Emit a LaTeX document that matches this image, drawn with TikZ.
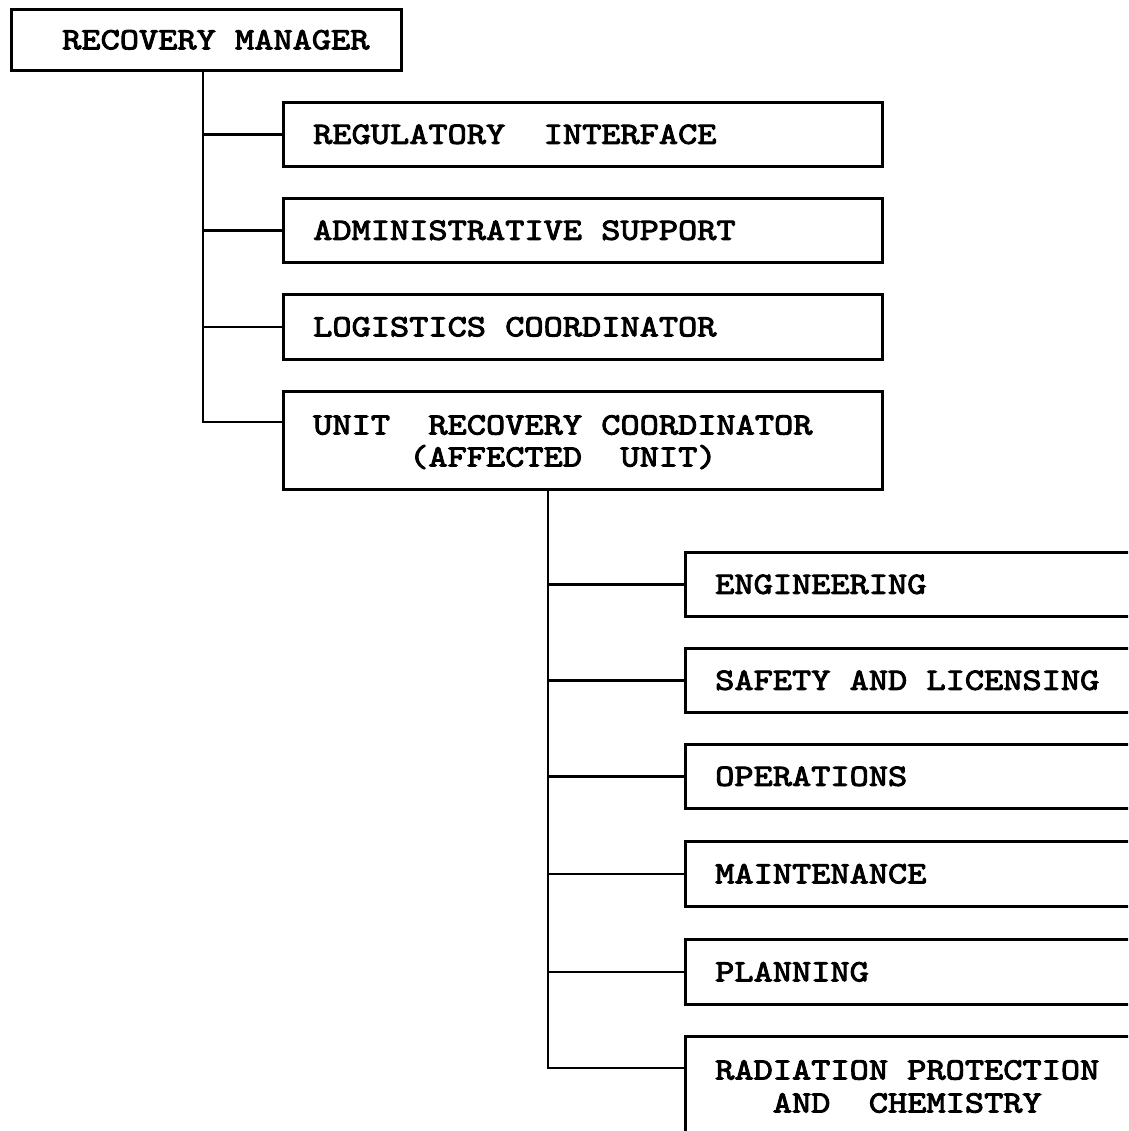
\documentclass[tikz,border=0pt]{standalone}
\usepackage{fontspec}
% slab-serif typewriter lettering, widened to the printed pitch and darkened
\newfontfamily\typer{lmmono10-regular.otf}[FakeStretch=1.18, FakeBold=3]
\begin{document}
\begin{tikzpicture}[x=1pt,y=-1pt,
  box/.style={draw, line width=2.6pt, rectangle, inner sep=0pt, anchor=north west},
  upper/.style={box, minimum width=599pt},
  lower/.style={box, minimum width=520pt},
  lbl/.style={font=\typer\fontsize{31}{33}\selectfont, inner sep=0pt},
  wire/.style={line width=2.6pt}]
\useasboundingbox (0,0) rectangle (1128,1131);
\clip (0,0) rectangle (1128,1131);

% top of the chart
\node[box, minimum width=390pt, minimum height=61pt] (rm) at (10,8) {};
\node[lbl, anchor=base west] (rmT) at ([xshift=52pt,yshift=-9.5pt]rm.west) {RECOVERY MANAGER};

% staff reporting to the recovery manager
\node[upper, minimum height=64pt] (reg) at (282,101) {};
\node[upper, minimum height=64pt] (adm) at (282,197) {};
\node[upper, minimum height=65pt] (log) at (282,293) {};
\node[upper, minimum height=98pt] (unit) at (282,390) {};

\node[lbl, anchor=base west] (regT) at ([xshift=31pt,yshift=-9.5pt]reg.west) {REGULATORY~~INTERFACE};
\node[lbl, anchor=base west] (admT) at ([xshift=31pt,yshift=-9.5pt]adm.west) {ADMINISTRATIVE SUPPORT};
\node[lbl, anchor=base west] (logT) at ([xshift=31pt,yshift=-9.5pt]log.west) {LOGISTICS COORDINATOR};
\node[lbl, anchor=base west] (unitA) at ([xshift=31pt,yshift=-44.5pt]unit.north west) {UNIT~~RECOVERY COORDINATOR};
\node[lbl, anchor=base] (unitB) at ([yshift=-32pt]unitA.base) {(AFFECTED~~UNIT)};

% groups under the unit recovery coordinator
\node[lower, minimum height=64pt] (eng) at (684,551) {};
\node[lower, minimum height=64pt] (saf) at (684,647) {};
\node[lower, minimum height=64pt] (ops) at (684,743) {};
\node[lower, minimum height=65pt] (mnt) at (684,840) {};
\node[lower, minimum height=65pt] (pln) at (684,938) {};
\node[lower, minimum height=150pt] (rad) at (684,1035) {};

\node[lbl, anchor=base west] (engT) at ([xshift=31pt,yshift=-9.5pt]eng.west) {ENGINEERING};
\node[lbl, anchor=base west] (safT) at ([xshift=31pt,yshift=-9.5pt]saf.west) {SAFETY AND LICENSING};
\node[lbl, anchor=base west] (opsT) at ([xshift=31pt,yshift=-9.5pt]ops.west) {OPERATIONS};
\node[lbl, anchor=base west] (mntT) at ([xshift=31pt,yshift=-9.5pt]mnt.west) {MAINTENANCE};
\node[lbl, anchor=base west] (plnT) at ([xshift=31pt,yshift=-9.5pt]pln.west) {PLANNING};
\node[lbl, anchor=base west] (radA) at ([xshift=31pt,yshift=-44.5pt]rad.north west) {RADIATION PROTECTION};
\node[lbl, anchor=base] (radB) at ([yshift=-33pt]radA.base) {AND~~CHEMISTRY};

% reporting lines
\coordinate (spineA) at (203,0);
\coordinate (spineB) at (548,0);
\draw[wire] (rm.south -| spineA) |- ([yshift=-32pt]unit.north west);
\foreach \n in {reg,adm,log}
  \draw[wire] (\n.west) -- (\n.west -| spineA);
\draw[wire] (unit.south -| spineB) |- ([yshift=-33pt]rad.north west);
\foreach \n in {eng,saf,ops,mnt,pln}
  \draw[wire] (\n.west) -- (\n.west -| spineB);
\end{tikzpicture}
\end{document}
